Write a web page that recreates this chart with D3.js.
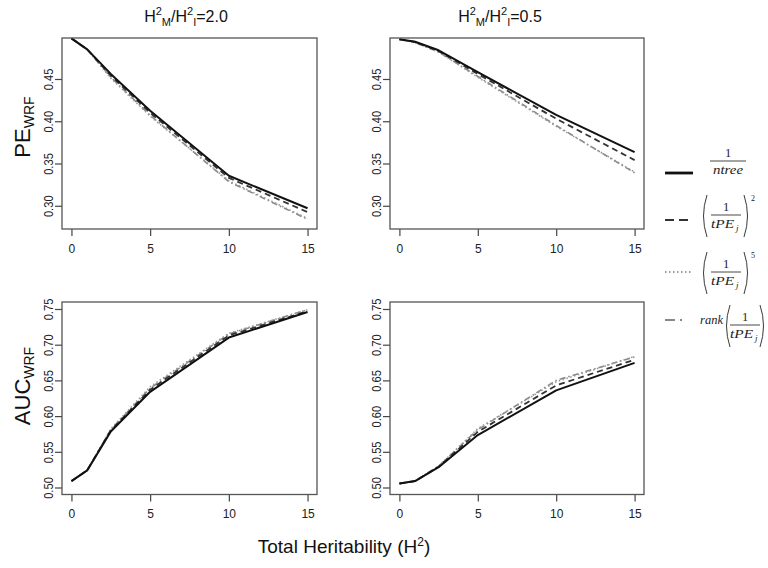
<!DOCTYPE html>
<html>
<head>
<meta charset="utf-8">
<script src="https://cdn.jsdelivr.net/npm/d3@7"></script>
<style>
body{margin:0;background:#fff;}
text{font-family:"Liberation Sans",Arial,sans-serif;fill:#111;}
.tick text{font-size:12px;fill:#222;}
.tick line{stroke:#444;stroke-width:1.2px;}
.box{fill:none;stroke:#555;stroke-width:1.3px;}
.lg text{font-family:"Liberation Serif","Times New Roman",serif;font-size:12.5px;fill:#222;}
.lg .it{font-style:italic;}
</style>
</head>
<body>
<script>

// x positions (total heritability)
var xVals = [0, 1, 2.5, 5, 10, 15];
var xTicks = [0, 5, 10, 15];

// PE, ratio 2.0
var pe20_ntree = [0.498, 0.485, 0.456, 0.4125, 0.3355, 0.297];
var pe20_tpe2  = [0.498, 0.485, 0.454, 0.410, 0.333, 0.2925];
var pe20_tpe5  = [0.498, 0.485, 0.451, 0.406, 0.3295, 0.285];
var pe20_rank  = [0.498, 0.485, 0.452, 0.407, 0.3285, 0.284];

// PE, ratio 0.5
var pe05_ntree = [0.497, 0.494, 0.484, 0.458, 0.4075, 0.3635];
var pe05_tpe2  = [0.497, 0.494, 0.483, 0.456, 0.403, 0.354];
var pe05_tpe5  = [0.497, 0.493, 0.482, 0.452, 0.394, 0.340];
var pe05_rank  = [0.497, 0.493, 0.482, 0.453, 0.395, 0.339];

// AUC, ratio 2.0
var auc20_ntree = [0.509, 0.524, 0.5785, 0.634, 0.710, 0.7458];
var auc20_tpe2  = [0.509, 0.524, 0.580, 0.637, 0.713, 0.747];
var auc20_tpe5  = [0.509, 0.524, 0.582, 0.641, 0.716, 0.749];
var auc20_rank  = [0.509, 0.524, 0.581, 0.639, 0.715, 0.749];

// AUC, ratio 0.5
var auc05_ntree = [0.5055, 0.509, 0.5285, 0.5735, 0.636, 0.6745];
var auc05_tpe2  = [0.5055, 0.509, 0.529, 0.578, 0.643, 0.679];
var auc05_tpe5  = [0.5055, 0.509, 0.530, 0.5825, 0.648, 0.6835];
var auc05_rank  = [0.5055, 0.509, 0.530, 0.581, 0.650, 0.683];

var peTicks = [0.30, 0.35, 0.40, 0.45];
var aucTicks = [0.50, 0.55, 0.60, 0.65, 0.70, 0.75];
var ratios = ["2.0", "0.5"];

var styles = [
  {color:"#111", width:2,   dash:null},
  {color:"#333", width:1.8, dash:"6,4"},
  {color:"#999", width:1.6, dash:"1.5,2.5"},
  {color:"#888", width:1.6, dash:"1.5,3,6,3"}
];

var panels = [
  {col:0, row:0, series:[pe20_ntree, pe20_tpe2, pe20_tpe5, pe20_rank]},
  {col:1, row:0, series:[pe05_ntree, pe05_tpe2, pe05_tpe5, pe05_rank]},
  {col:0, row:1, series:[auc20_ntree, auc20_tpe2, auc20_tpe5, auc20_rank]},
  {col:1, row:1, series:[auc05_ntree, auc05_tpe2, auc05_tpe5, auc05_rank]}
];

var colX = [62, 390], colW = [255, 254];
var rowY = [38, 302], rowH = [191, 192.5];
var rowDomain = [[0.2725, 0.4985], [0.4902, 0.7598]];
var rowTicks = [peTicks, aucTicks];

var svg = d3.select("body").append("svg").attr("width", 768).attr("height", 568);

panels.forEach(function(p){
  var w = colW[p.col], h = rowH[p.row];
  var g = svg.append("g").attr("transform", "translate(" + colX[p.col] + "," + rowY[p.row] + ")");
  var x = d3.scaleLinear().domain([-0.6, 15.6]).range([0, w]);
  var y = d3.scaleLinear().domain(rowDomain[p.row]).range([h, 0]);

  g.append("g").attr("transform", "translate(0," + h + ")")
    .call(d3.axisBottom(x).tickValues(xTicks).tickSize(7).tickPadding(8))
    .call(a => a.select(".domain").remove());

  var ya = g.append("g")
    .call(d3.axisLeft(y).tickValues(rowTicks[p.row]).tickSize(7).tickFormat(d3.format(".2f")))
    .call(a => a.select(".domain").remove());
  ya.selectAll(".tick text")
    .attr("x", null).attr("dy", null)
    .attr("transform", "translate(-9,0) rotate(-90) scale(0.93,1)")
    .attr("text-anchor", "middle");

  var line = d3.line().x((d, i) => x(xVals[i])).y(d => y(d));
  // light series first, solid on top
  [3, 2, 1, 0].forEach(function(k){
    g.append("path").datum(p.series[k])
      .attr("d", line)
      .attr("fill", "none")
      .attr("stroke", styles[k].color)
      .attr("stroke-width", styles[k].width)
      .attr("stroke-dasharray", styles[k].dash)
      .attr("stroke-linejoin", "round");
  });

  g.append("rect").attr("class", "box").attr("width", w).attr("height", h);
});

// column titles
ratios.forEach(function(r, i){
  var t = svg.append("text").attr("x", [186, 500][i]).attr("y", 22)
    .attr("text-anchor", "middle").style("font-size", "16px");
  t.append("tspan").text("H");
  t.append("tspan").attr("dy", -7).style("font-size", "11px").text("2");
  t.append("tspan").attr("dy", 11).style("font-size", "11px").text("M");
  t.append("tspan").attr("dy", -4).text("/H");
  t.append("tspan").attr("dy", -7).style("font-size", "11px").text("2");
  t.append("tspan").attr("dy", 11).style("font-size", "11px").text("I");
  t.append("tspan").attr("dy", -4).text("=" + r);
});

// row labels
[["PE", 127], ["AUC", 386]].forEach(function(l){
  var t = svg.append("text").attr("transform", "translate(30," + l[1] + ") rotate(-90)")
    .attr("text-anchor", "middle").style("font-size", "22px");
  t.append("tspan").text(l[0]);
  t.append("tspan").attr("dy", 4).style("font-size", "14px").text("WRF");
});

// x axis title
var xt = svg.append("text").attr("x", 344).attr("y", 553).attr("text-anchor", "middle").style("font-size", "19px");
xt.append("tspan").text("Total Heritability (H");
xt.append("tspan").attr("dy", -7).style("font-size", "12px").text("2");
xt.append("tspan").attr("dy", 7).text(")");

// legend
var lg = svg.append("g").attr("class", "lg");
var lineY = [173, 220, 272, 320];
styles.forEach(function(s, i){
  lg.append("line").attr("x1", 665).attr("x2", 693).attr("y1", lineY[i]).attr("y2", lineY[i])
    .attr("stroke", s.color).attr("stroke-width", i == 0 ? 2.8 : 2.2)
    .attr("stroke-dasharray", ["", "9,5", "1.5,2.5", "10,5,2,12"][i]);
});

function frac(cx, by, den, hw){
  lg.append("text").attr("x", cx).attr("y", by - 4).attr("text-anchor", "middle").text("1");
  lg.append("line").attr("x1", cx - hw).attr("x2", cx + hw).attr("y1", by).attr("y2", by)
    .attr("stroke", "#333").attr("stroke-width", 0.9);
  if (den == "ntree") {
    lg.append("text").attr("x", cx - 15).attr("y", by + 13).attr("class", "it")
      .attr("textLength", 30).attr("lengthAdjust", "spacingAndGlyphs").text("ntree");
  } else {
    lg.append("text").attr("x", cx - 15).attr("y", by + 13).attr("class", "it")
      .attr("textLength", 23).attr("lengthAdjust", "spacingAndGlyphs").text("tPE");
    lg.append("text").attr("x", cx + 10).attr("y", by + 16).attr("class", "it")
      .style("font-size", "9px").text("j");
  }
}
function parens(x0, x1, by){
  var top = by - 20, bot = by + 22;
  lg.append("path").attr("d", "M" + (x0 + 5) + "," + top + " Q" + (x0 - 2) + "," + ((top + bot) / 2) + " " + (x0 + 5) + "," + bot)
    .attr("fill", "none").attr("stroke", "#222").attr("stroke-width", 0.9);
  lg.append("path").attr("d", "M" + (x1 - 5) + "," + top + " Q" + (x1 + 2) + "," + ((top + bot) / 2) + " " + (x1 - 5) + "," + bot)
    .attr("fill", "none").attr("stroke", "#222").attr("stroke-width", 0.9);
}

frac(728, 161, "ntree", 18);
frac(726, 215, "tPE", 15);
parens(702, 749, 215);
lg.append("text").attr("x", 751).attr("y", 201).style("font-size", "8px").text("2");
frac(726, 272, "tPE", 15);
parens(702, 749, 272);
lg.append("text").attr("x", 751).attr("y", 258).style("font-size", "8px").text("5");
lg.append("text").attr("x", 723).attr("y", 324).attr("text-anchor", "end").attr("class", "it").text("rank");
frac(745, 325, "tPE", 15);
parens(725, 765, 325);

</script>
</body>
</html>
